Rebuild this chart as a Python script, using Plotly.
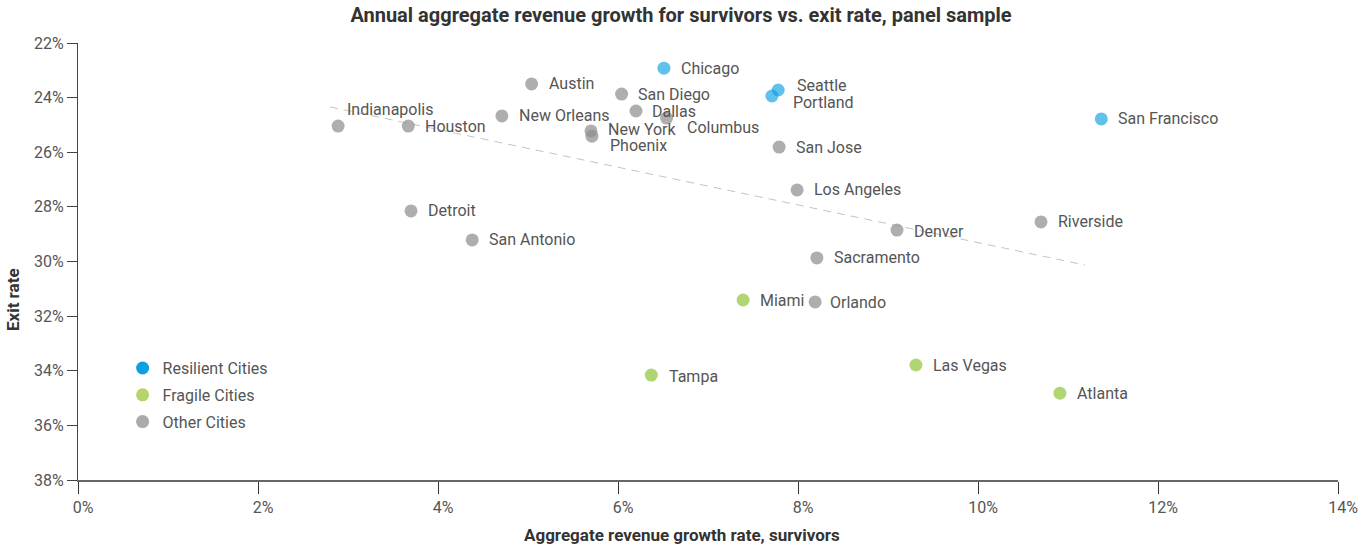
import plotly.graph_objects as go

# ---- data ----
resilient_city = ["Chicago", "Seattle", "Portland", "San Francisco"]
resilient_growth = [6.51, 7.78, 7.71, 11.37]
resilient_exit = [22.92, 23.72, 23.94, 24.78]

fragile_city = ["Miami", "Tampa", "Las Vegas", "Atlanta"]
fragile_growth = [7.39, 6.37, 9.31, 10.91]
fragile_exit = [31.41, 34.16, 33.79, 34.82]

other_city = ["Austin", "San Diego", "Indianapolis", "Houston", "New Orleans", "Dallas",
              "Columbus", "New York", "Phoenix", "San Jose", "Los Angeles", "Detroit",
              "San Antonio", "Denver", "Riverside", "Sacramento", "Orlando"]
other_growth = [5.04, 6.04, 2.89, 3.67, 4.71, 6.20, 6.54, 5.70, 5.71, 7.79, 7.99, 3.70,
                4.38, 9.10, 10.70, 8.21, 8.19]
other_exit = [23.50, 23.87, 25.04, 25.04, 24.67, 24.49, 24.75, 25.22, 25.41, 25.81, 27.38,
              28.15, 29.21, 28.85, 28.55, 29.87, 31.48]

trend_growth = [2.80, 11.19]
trend_exit = [24.34, 30.13]

x_ticks = [0, 2, 4, 6, 8, 10, 12, 14]
x_tick_labels = ["0%", "2%", "4%", "6%", "8%", "10%", "12%", "14%"]
y_ticks = [22, 24, 26, 28, 30, 32, 34, 36, 38]
y_tick_labels = ["22%", "24%", "26%", "28%", "30%", "32%", "34%", "36%", "38%"]

# ---- style ----
FONT = "Roboto"
TEXT_COL = "#555555"
label_shift = {  # (xshift, yshift) in px for label placement
    "Seattle": (17, 4), "Portland": (19, -7), "Columbus": (18, -9),
    "New York": (15, 1), "Phoenix": (16, -9), "Indianapolis": (7, 17),
    "Dallas": (14, 0), "San Diego": (14, 0), "Orlando": (13, -1),
    "Tampa": (16, -1), "Denver": (15, -1),
}

fig = go.Figure()

fig.add_trace(go.Scatter(
    x=trend_growth, y=trend_exit, mode="lines",
    line=dict(color="#c4c4c4", width=1, dash="8px,6px"),
    showlegend=False, hoverinfo="skip"))

groups = [
    (resilient_city, resilient_growth, resilient_exit, "rgba(10,160,224,0.65)", "#0ca0e0", "Resilient Cities"),
    (fragile_city, fragile_growth, fragile_exit, "rgba(150,200,70,0.75)", "#b5d56a", "Fragile Cities"),
    (other_city, other_growth, other_exit, "rgba(140,140,140,0.7)", "#aaaaaa", "Other Cities"),
]

annotations = []
for i, (cities, gx, gy, col, legcol, name) in enumerate(groups):
    fig.add_trace(go.Scatter(
        x=gx, y=gy, mode="markers", name=name,
        marker=dict(size=13, color=col, line=dict(width=0)),
        showlegend=False, hoverinfo="skip"))
    # legend-only entry with solid colour
    fig.add_trace(go.Scatter(
        x=[None], y=[None], mode="markers", name=name, legendgroup=name,
        marker=dict(size=13, color=legcol), showlegend=True))
    for c, xv, yv in zip(cities, gx, gy):
        xs, ys = label_shift.get(c, (15, 0))
        annotations.append(dict(
            x=xv, y=yv, xref="x", yref="y", text=c, showarrow=False,
            xanchor="left", yanchor="middle", xshift=xs, yshift=ys,
            font=dict(family=FONT, size=16, color=TEXT_COL)))

annotations.append(dict(
    text="<b>Aggregate revenue growth rate, survivors</b>", xref="paper", yref="paper",
    x=0.479, y=-0.126, xanchor="center", yanchor="middle", showarrow=False,
    font=dict(family=FONT, size=17, color="#333333")))
annotations.append(dict(
    text="<b>Exit rate</b>", xref="paper", yref="paper", textangle=-90,
    x=-0.0516, y=0.414, xanchor="center", yanchor="middle", showarrow=False,
    font=dict(family=FONT, size=17, color="#333333")))

fig.update_layout(
    width=1362, height=546,
    margin=dict(l=78, r=24, t=43, b=66),
    paper_bgcolor="white", plot_bgcolor="white",
    title=dict(text="<b>Annual aggregate revenue growth for survivors vs. exit rate, panel sample</b>",
               x=0.5, xref="container", y=1 - 15 / 546, yref="container",
               xanchor="center", yanchor="middle",
               font=dict(family=FONT, size=20, color="#333333")),
    font=dict(family=FONT, size=16, color=TEXT_COL),
    showlegend=True,
    legend=dict(x=0.0354, y=0.295, xanchor="left", yanchor="top",
                font=dict(family=FONT, size=16, color=TEXT_COL),
                bgcolor="rgba(0,0,0,0)", tracegroupgap=3),
    annotations=annotations,
    hovermode=False,
)

fig.update_xaxes(
    range=[0, 14], tickvals=x_ticks, ticktext=x_tick_labels, automargin=False,
    showgrid=False, zeroline=False, showline=True, linecolor="#666666", linewidth=1.5,
    ticks="outside", ticklen=12, tickcolor="#333333", tickwidth=1, ticklabelshift=5,
    ticklabeloverflow="allow",
    tickfont=dict(family=FONT, size=16, color=TEXT_COL))
fig.update_yaxes(
    range=[38, 22], tickvals=y_ticks, ticktext=y_tick_labels, automargin=False,
    showgrid=False, zeroline=False, showline=True, linecolor="#444444", linewidth=1,
    ticks="outside", ticklen=10, tickcolor="#444444", tickwidth=1,
    tickfont=dict(family=FONT, size=16, color=TEXT_COL))

# remove the default page margin / scrollbars so the figure fills the window exactly
post = ("document.documentElement.style.margin='0';document.body.style.margin='0';"
        "document.documentElement.style.overflow='hidden';document.body.style.overflow='hidden';")
fig.write_html("out.html", post_script=post, config={"displayModeBar": False})
